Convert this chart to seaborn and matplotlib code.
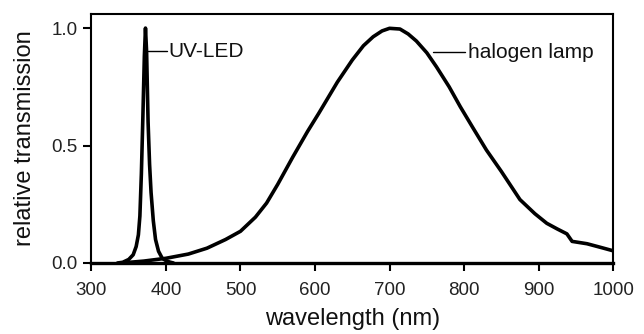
import numpy as np
import pandas as pd
import matplotlib
matplotlib.use("Agg")
import matplotlib.pyplot as plt
import seaborn as sns

# UV-LED spectrum
uv_wavelength = [335, 342, 350, 356, 360, 363, 365, 367, 369, 371, 372.5, 374, 376,
                 378, 380, 383, 386, 390, 395, 400, 405, 410]
uv_transmission = [0.0, 0.003, 0.015, 0.035, 0.07, 0.12, 0.2, 0.38, 0.62, 0.88, 1.0,
                   0.9, 0.6, 0.42, 0.3, 0.18, 0.1, 0.05, 0.02, 0.01, 0.004, 0.0]

# halogen lamp spectrum
hal_wavelength = [340, 370, 400, 430, 455, 480, 500, 520, 535, 550, 570, 590, 605,
                  630, 650, 665, 678, 690, 700, 714, 725, 736, 750, 763, 780, 795,
                  812, 830, 850, 875, 895, 911, 925, 938, 945, 965, 985, 1000]
hal_transmission = [0.0, 0.008, 0.02, 0.038, 0.063, 0.1, 0.135, 0.195, 0.255, 0.335,
                    0.45, 0.56, 0.637, 0.77, 0.864, 0.925, 0.963, 0.988, 0.999,
                    0.996, 0.975, 0.945, 0.895, 0.835, 0.75, 0.665, 0.575, 0.481,
                    0.39, 0.27, 0.21, 0.169, 0.145, 0.124, 0.092, 0.082, 0.065, 0.052]

x_ticks = [300, 400, 500, 600, 700, 800, 900, 1000]
y_ticks = [0.0, 0.5, 1.0]

sns.set_style("ticks")
plt.rcParams['font.family'] = ['Liberation Sans', 'DejaVu Sans']

fig = plt.figure(figsize=(6.44, 3.34), dpi=100)
ax = fig.add_axes([0.142, 0.2126, 0.810, 0.7455])

uv = pd.DataFrame({"wavelength": uv_wavelength, "transmission": uv_transmission})
hal = pd.DataFrame({"wavelength": hal_wavelength, "transmission": hal_transmission})

sns.lineplot(data=uv, x="wavelength", y="transmission", ax=ax, color="black",
             linewidth=2.6, sort=False)
sns.lineplot(data=hal, x="wavelength", y="transmission", ax=ax, color="black",
             linewidth=2.6, sort=False)

ax.set_xlim(300, 1000)
ax.set_ylim(0, 1.06)
ax.set_xticks(x_ticks)
ax.set_yticks(y_ticks)
ax.set_yticklabels([f"{v:.1f}" for v in y_ticks])
ax.tick_params(axis="both", labelsize=13.5, length=6, width=1.5, color="black",
               labelcolor="#222222", direction="out")
ax.tick_params(axis="x", pad=8)
ax.tick_params(axis="y", pad=4)
for side in ["top", "right", "bottom", "left"]:
    ax.spines[side].set_visible(True)
    ax.spines[side].set_linewidth(1.5)
    ax.spines[side].set_color("black")
ax.spines["bottom"].set_linewidth(2.4)

ax.set_xlabel("wavelength (nm)", fontsize=17, labelpad=6, color="#111111")
ax.set_ylabel("relative transmission", fontsize=17, labelpad=11, color="#111111")

# labels with leader lines
ax.plot([376, 401], [0.902, 0.902], color="black", linewidth=1)
ax.text(403, 0.902, "UV-LED", fontsize=15, va="center", ha="left", color="#111111")
ax.plot([758, 801], [0.898, 0.898], color="black", linewidth=1)
ax.text(805, 0.898, "halogen lamp", fontsize=15, va="center", ha="left", color="#111111")

plt.savefig("out.png", dpi=100)
plt.close()
